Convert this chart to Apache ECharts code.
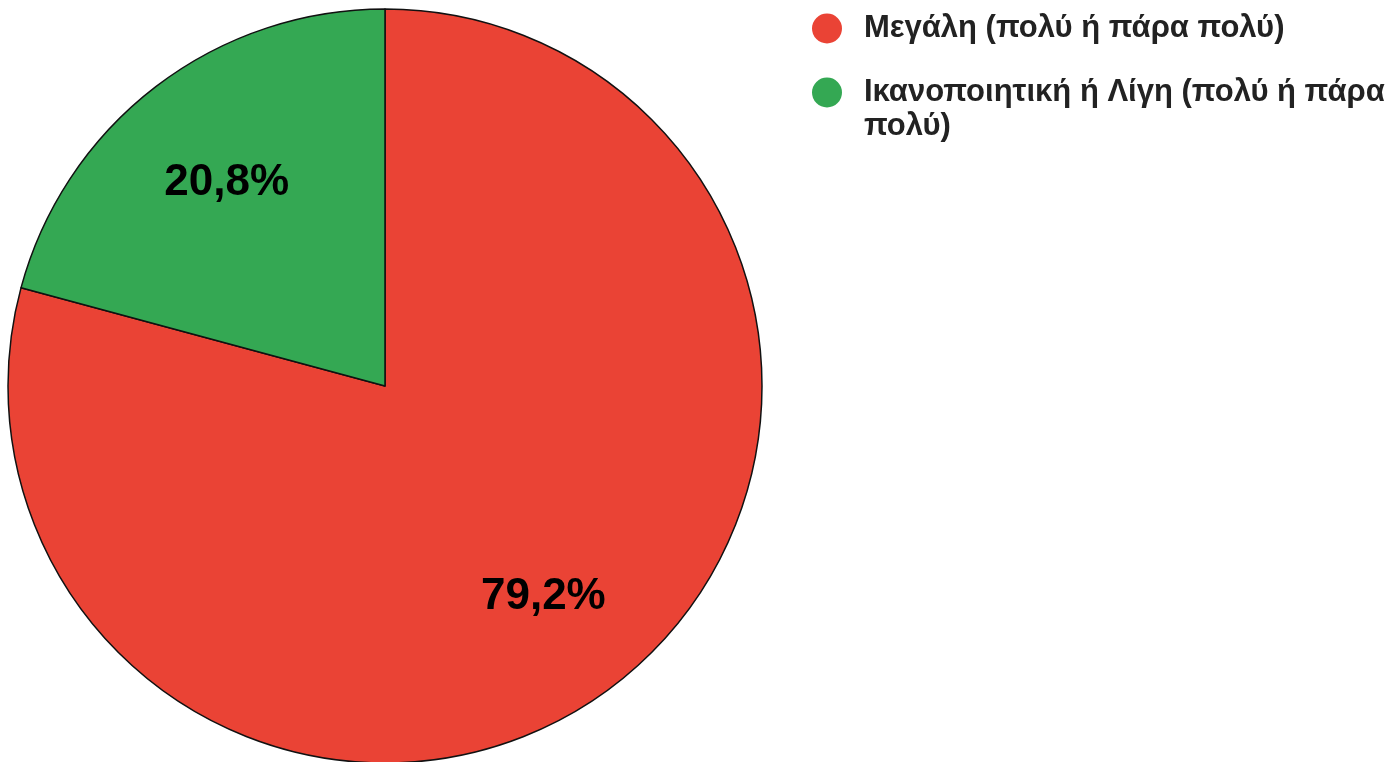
<!DOCTYPE html>
<html>
<head>
<meta charset="utf-8">
<script src="https://cdn.jsdelivr.net/npm/echarts@6/dist/echarts.min.js"></script>
<style>
html,body{margin:0;padding:0;background:#fff;}
#chart{width:1387px;height:762px;}
</style>
</head>
<body>
<div id="chart"></div>
<script>
var categories = ["Μεγάλη (πολύ ή πάρα πολύ)", "Ικανοποιητική ή Λίγη (πολύ ή πάρα πολύ)"];
var values = [79.2, 20.8];
var colors = ["#EA4335", "#34A853"];

var chart = echarts.init(document.getElementById('chart'));
var pieData = categories.map(function (c, i) {
  return { name: c, value: values[i], itemStyle: { color: colors[i] } };
});
var labelData = categories.map(function (c, i) {
  return { name: c, value: values[i] };
});
function fmt(p) { return p.value.toFixed(1).replace('.', ',') + '%'; }
// word wrap; multi-line names get a leading blank line so the first line sits beside the marker
function wrap(name) {
  var words = name.split(' '), lines = [], cur = '';
  words.forEach(function (w) {
    var t = cur ? cur + ' ' + w : w;
    if (t.length > 33 && cur) { lines.push(cur); cur = w; } else { cur = t; }
  });
  lines.push(cur);
  if (lines.length > 1) { lines.unshift(''); }
  return lines.join('\n');
}

chart.setOption({
  animation: false,
  legend: {
    orient: 'vertical',
    left: 807,
    top: 6.5,
    icon: 'circle',
    itemWidth: 30,
    itemHeight: 30,
    itemGap: -4,
    itemStyle: { borderWidth: 0 },
    data: categories,
    formatter: wrap,
    textStyle: {
      fontFamily: 'Liberation Sans, Arial, sans-serif',
      fontWeight: 'bold',
      fontSize: 31,
      color: '#222',
      lineHeight: 34,
      padding: [0, 0, 0, 17]
    }
  },
  series: [
    {
      type: 'pie',
      center: [385, 386],
      radius: [0, 377],
      startAngle: 90,
      clockwise: true,
      silent: true,
      label: { show: false },
      labelLine: { show: false },
      itemStyle: { borderColor: '#111', borderWidth: 1.5 },
      data: pieData
    },
    {
      type: 'pie',
      center: [385, 390],
      radius: [0, 515],
      startAngle: 90,
      clockwise: true,
      silent: true,
      legendHoverLink: false,
      itemStyle: { color: 'rgba(0,0,0,0)', borderWidth: 0 },
      label: {
        show: true,
        position: 'inside',
        formatter: fmt,
        fontFamily: 'Liberation Sans, Arial, sans-serif',
        fontWeight: 'bold',
        fontSize: 44,
        color: '#000'
      },
      labelLine: { show: false },
      data: labelData
    }
  ]
});
</script>
</body>
</html>
